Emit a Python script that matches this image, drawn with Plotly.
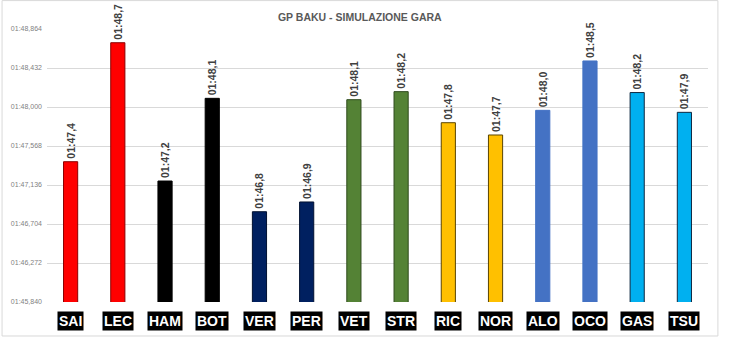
import plotly.graph_objects as go

drivers = ["SAI", "LEC", "HAM", "BOT", "VER", "PER", "VET", "STR", "RIC", "NOR", "ALO", "OCO", "GAS", "TSU"]
# lap times in seconds
lap_times = [107.394, 108.712, 107.180, 108.096, 106.840, 106.948, 108.081, 108.170,
             107.826, 107.690, 107.963, 108.510, 108.160, 107.941]
bar_labels = ["01:47,4", "01:48,7", "01:47,2", "01:48,1", "01:46,8", "01:46,9", "01:48,1",
              "01:48,2", "01:47,8", "01:47,7", "01:48,0", "01:48,5", "01:48,2", "01:47,9"]
bar_colors = ["#FF0000", "#FF0000", "#000000", "#000000", "#002060", "#002060", "#548235",
              "#548235", "#FFC000", "#FFC000", "#4472C4", "#4472C4", "#00B0F0", "#00B0F0"]
border_colors = ["#8B0000", "#8B0000", "#000000", "#000000", "#001030", "#001030", "#2E4A1C",
                 "#2E4A1C", "#5A4500", "#5A4500", "#4472C4", "#4472C4", "#0E2841", "#0E2841"]
tick_values = [105.840, 106.272, 106.704, 107.136, 107.568, 108.000, 108.432, 108.864]
tick_labels = ["01:45,840", "01:46,272", "01:46,704", "01:47,136", "01:47,568",
               "01:48,000", "01:48,432", "01:48,864"]
title = "GP BAKU - SIMULAZIONE GARA"

fig = go.Figure()
fig.add_trace(go.Bar(
    x=drivers, y=lap_times, base=0,
    marker=dict(color=bar_colors, line=dict(color=border_colors, width=1)),
    width=0.3,
    text=[f"<b>{t}</b> " for t in bar_labels], textposition="outside", textangle=-90,
    constraintext="none",
    textfont=dict(family="Liberation Sans", size=10.5, color="#404040"),
    cliponaxis=False, hoverinfo="skip",
))

for d in drivers:
    fig.add_annotation(
        x=d, xref="x", y=-0.069, yref="paper", yanchor="middle",
        text=f"<b>{d}</b>", showarrow=False, bgcolor="#000000", borderpad=1,
        font=dict(family="Liberation Sans", size=14, color="#FFFFFF"),
    )

fig.add_shape(type="rect", xref="paper", yref="paper",
              x0=-0.068, x1=1.015, y0=-0.1245, y1=1.104,
              line=dict(color="#D9D9D9", width=1), fillcolor="rgba(0,0,0,0)", layer="below")

fig.update_layout(
    width=738, height=347,
    margin=dict(l=47, r=30, t=29, b=45),
    paper_bgcolor="white", plot_bgcolor="white",
    showlegend=False,
    title=dict(text=f"<b>{title}</b>", x=0.4875, xanchor="center", y=0.951, yanchor="middle",
               font=dict(family="Liberation Sans", size=10.5, color="#595959")),
    xaxis=dict(showticklabels=False, showgrid=False, zeroline=False, showline=False, ticks=""),
    yaxis=dict(range=[105.840, 108.864], tickvals=tick_values, ticktext=tick_labels,
               showgrid=True, gridcolor="#D9D9D9", gridwidth=1, zeroline=False, showline=False,
               tickfont=dict(family="Liberation Sans", size=7, color="#7F7F7F"), ticks="",
               ticklabelstandoff=4),
)

fig.write_html("out.html")
